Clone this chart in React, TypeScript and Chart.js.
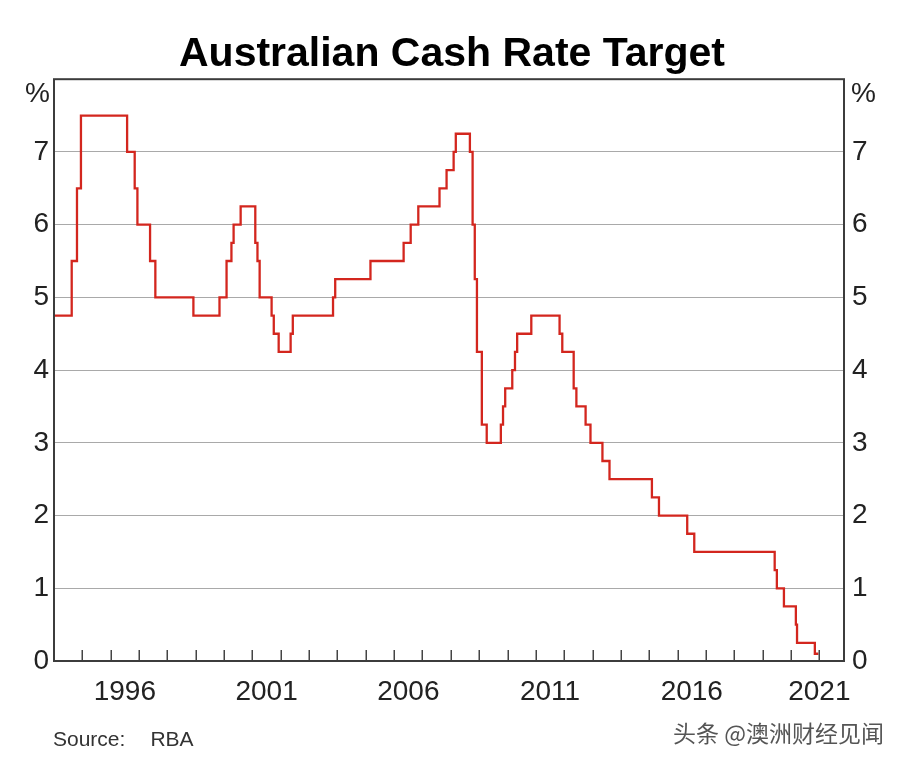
import React, { useEffect, useRef } from 'react';
import { Chart, registerables } from 'chart.js';

Chart.register(...registerables);

const FONT = '"Liberation Sans", Arial, Helvetica, sans-serif';
const CJK_FONT = '"Noto Sans CJK SC", "Noto Sans", sans-serif';

const TITLE = 'Australian Cash Rate Target';
const SOURCE_LABEL = 'Source:';
const SOURCE_NAME = 'RBA';
const WATERMARK = '头条 @澳洲财经见闻';
const UNIT_LABEL = '%';

// Dates on which the cash rate target changed, and the new rate (%)
const changeDates = [
  '1994-01-01', '1994-08-17', '1994-10-24', '1994-12-14',
  '1996-07-31', '1996-11-06', '1996-12-11', '1997-05-23', '1997-07-30',
  '1998-12-02', '1999-11-03', '2000-02-02', '2000-04-05', '2000-05-03',
  '2000-08-02', '2001-02-07', '2001-03-07', '2001-04-04', '2001-09-05',
  '2001-10-03', '2001-12-05', '2002-05-08', '2002-06-05', '2003-11-05',
  '2003-12-03', '2005-03-02', '2006-05-03', '2006-08-02', '2006-11-08',
  '2007-08-08', '2007-11-07', '2008-02-06', '2008-03-05', '2008-09-03',
  '2008-10-08', '2008-11-05', '2008-12-03', '2009-02-04', '2009-04-08',
  '2009-10-07', '2009-11-04', '2009-12-02', '2010-03-03', '2010-04-07',
  '2010-05-05', '2010-11-03', '2011-11-02', '2011-12-07', '2012-05-02',
  '2012-06-06', '2012-10-03', '2012-12-05', '2013-05-08', '2013-08-07',
  '2015-02-04', '2015-05-06', '2016-05-04', '2016-08-03', '2019-06-05',
  '2019-07-03', '2019-10-02', '2020-03-04', '2020-03-19', '2020-11-04',
  '2020-12-20',
];
const cashRates = [
  4.75, 5.5, 6.5, 7.5,
  7.0, 6.5, 6.0, 5.5, 5.0,
  4.75, 5.0, 5.5, 5.75, 6.0,
  6.25, 5.75, 5.5, 5.0, 4.75,
  4.5, 4.25, 4.5, 4.75, 5.0,
  5.25, 5.5, 5.75, 6.0, 6.25,
  6.5, 6.75, 7.0, 7.25, 7.0,
  6.0, 5.25, 4.25, 3.25, 3.0,
  3.25, 3.5, 3.75, 4.0, 4.25,
  4.5, 4.75, 4.5, 4.25, 3.75,
  3.5, 3.25, 3.0, 2.75, 2.5,
  2.25, 2.0, 1.75, 1.5, 1.25,
  1.0, 0.75, 0.5, 0.25, 0.1,
  0.1,
];

const X_MIN = 1994;
const X_MAX = 2021.87;
const Y_MIN = 0;
const Y_MAX = 8;
const yearLabelPositions = [1996.5, 2001.5, 2006.5, 2011.5, 2016.5, 2021];
const minorTickYears = [
  1995, 1996, 1997, 1998, 1999, 2000, 2001, 2002, 2003, 2004, 2005, 2006, 2007,
  2008, 2009, 2010, 2011, 2012, 2013, 2014, 2015, 2016, 2017, 2018, 2019, 2020, 2021,
];

function toDecimalYear(iso: string): number {
  const [y, m, d] = iso.split('-').map(Number);
  const start = Date.UTC(y, 0, 1);
  const end = Date.UTC(y + 1, 0, 1);
  const t = Date.UTC(y, m - 1, d);
  return y + (t - start) / (end - start);
}

const framePlugin = {
  id: 'frameAndTicks',
  afterDraw(chart: any) {
    const { ctx, chartArea, scales } = chart;
    const { left, right, top, bottom } = chartArea;
    ctx.save();
    // minor year ticks pointing inward from bottom axis
    ctx.strokeStyle = '#444';
    ctx.lineWidth = 1.5;
    ctx.beginPath();
    minorTickYears.forEach((yr) => {
      const px = Math.round(scales.x.getPixelForValue(yr)) + 0.25;
      ctx.moveTo(px, bottom);
      ctx.lineTo(px, bottom - 11);
    });
    ctx.stroke();
    // frame
    ctx.strokeStyle = '#3c3c3c';
    ctx.lineWidth = 2;
    ctx.strokeRect(left, top, right - left, bottom - top);
    // unit labels
    ctx.fillStyle = '#222';
    ctx.font = `28px ${FONT}`;
    ctx.textBaseline = 'middle';
    ctx.textAlign = 'right';
    ctx.fillText(UNIT_LABEL, left - 4, top + 15);
    ctx.textAlign = 'left';
    ctx.fillText(UNIT_LABEL, right + 7, top + 15);
    ctx.restore();
  },
};

export default function App() {
  const canvasRef = useRef<HTMLCanvasElement | null>(null);

  useEffect(() => {
    document.body.style.margin = '0';
    const canvas = canvasRef.current;
    if (!canvas) return;
    const points = changeDates.map((d, i) => ({ x: toDecimalYear(d), y: cashRates[i] }));
    const tickFont = { family: FONT, size: 28 };
    const chart = new Chart(canvas, {
      type: 'line',
      data: {
        datasets: [
          {
            data: points,
            stepped: true,
            borderColor: '#d3261e',
            borderWidth: 2.3,
            pointRadius: 0,
            fill: false,
          },
        ],
      },
      options: {
        animation: false,
        responsive: false,
        layout: { padding: 0 },
        plugins: {
          legend: { display: false },
          tooltip: { enabled: false },
          title: {
            display: true,
            text: TITLE,
            color: '#000',
            font: { family: FONT, size: 41, weight: 'bold', lineHeight: 1.2 },
            padding: { top: 30, bottom: 0 },
          },
        },
        scales: {
          x: {
            type: 'linear',
            position: 'bottom',
            min: X_MIN,
            max: X_MAX,
            grid: { display: false, drawTicks: false },
            border: { display: false },
            afterBuildTicks: (s: any) => {
              s.ticks = yearLabelPositions.map((v) => ({ value: v }));
            },
            afterFit: (s: any) => {
              s.height = 105;
            },
            ticks: {
              autoSkip: false,
              maxRotation: 0,
              padding: 14,
              color: '#222',
              font: tickFont,
              callback: (v: any) => String(Math.floor(Number(v))),
            },
          },
          y: {
            position: 'left',
            min: Y_MIN,
            max: Y_MAX,
            afterFit: (s: any) => {
              s.width = 54;
            },
            grid: {
              color: (c: any) => {
                const v = c.tick ? c.tick.value : -1;
                return v === Y_MIN || v === Y_MAX ? 'rgba(0,0,0,0)' : '#a9a9a9';
              },
              lineWidth: 1,
              drawTicks: false,
            },
            border: { display: false },
            ticks: {
              stepSize: 1,
              padding: 5,
              color: '#222',
              font: tickFont,
              callback: (v: any) => (Number(v) === Y_MAX ? '' : String(v)),
            },
          },
          y1: {
            position: 'right',
            min: Y_MIN,
            max: Y_MAX,
            afterFit: (s: any) => {
              s.width = 60;
            },
            grid: { display: false, drawTicks: false },
            border: { display: false },
            ticks: {
              stepSize: 1,
              padding: 8,
              color: '#222',
              font: tickFont,
              callback: (v: any) => (Number(v) === Y_MAX ? '' : String(v)),
            },
          },
        },
      } as any,
      plugins: [framePlugin],
    });
    return () => chart.destroy();
  }, []);

  return (
    <div style={{ position: 'relative', width: 904, height: 766, background: '#fff', fontFamily: FONT }}>
      <canvas ref={canvasRef} width={904} height={766} style={{ display: 'block' }} />
      <div
        style={{
          position: 'absolute',
          left: 53,
          top: 728,
          fontSize: 21,
          lineHeight: '21px',
          color: '#333',
          whiteSpace: 'nowrap',
        }}
      >
        {SOURCE_LABEL}
        <span style={{ marginLeft: 25 }}>{SOURCE_NAME}</span>
      </div>
      <div
        style={{
          position: 'absolute',
          left: 673,
          top: 721,
          fontSize: 23,
          lineHeight: '23px',
          color: '#555',
          fontFamily: CJK_FONT,
          whiteSpace: 'nowrap',
        }}
      >
        {WATERMARK}
      </div>
    </div>
  );
}
